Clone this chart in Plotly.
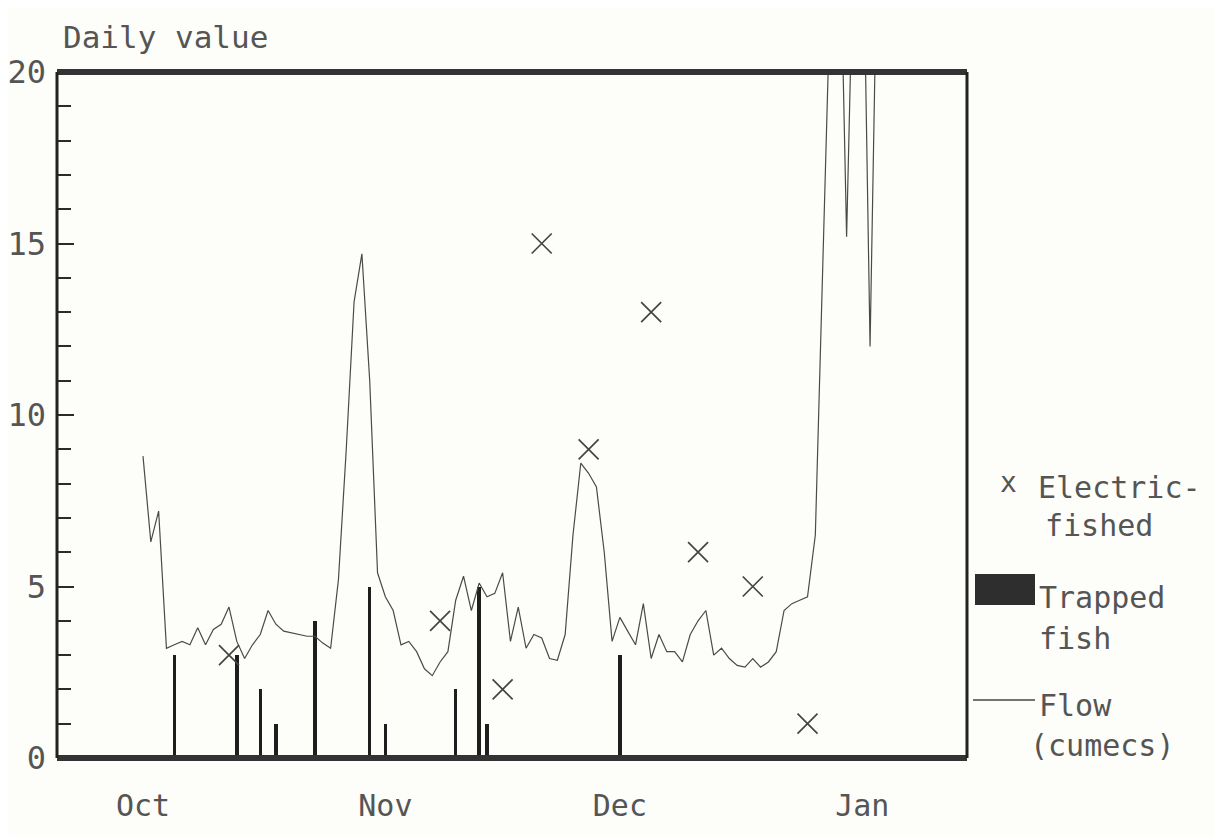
import plotly.graph_objects as go

# ---- data (day 0 = 1 October) ----
flow_days = list(range(0, 95))
flow_vals = [
    8.8, 6.3, 7.2, 3.2, 3.3, 3.4, 3.3, 3.8, 3.3, 3.75,
    3.9, 4.4, 3.4, 2.9, 3.3, 3.6, 4.3, 3.9, 3.7, 3.65,
    3.6, 3.55, 3.55, 3.35, 3.2, 5.2, 9.0, 13.3, 14.7, 11.0,
    5.4, 4.7, 4.3, 3.3, 3.4, 3.1, 2.6, 2.4, 2.8, 3.1,
    4.6, 5.3, 4.3, 5.1, 4.7, 4.8, 5.4, 3.4, 4.4, 3.2,
    3.6, 3.5, 2.9, 2.85, 3.6, 6.5, 8.6, 8.3, 7.9, 6.0,
    3.4, 4.1, 3.7, 3.3, 4.5, 2.9, 3.6, 3.1, 3.1, 2.8,
    3.6, 4.0, 4.3, 3.0, 3.2, 2.9, 2.7, 2.65, 2.9, 2.65,
    2.8, 3.1, 4.3, 4.5, 4.6, 4.7, 6.5, 14.8, 23.0, 26.0,
    15.2, 25.0, 26.0, 12.0, 25.0,
]

trap_days = [4, 12, 15, 17, 22, 29, 31, 40, 43, 44, 61]
trap_vals = [3, 3, 2, 1, 4, 5, 1, 2, 5, 1, 3]

elec_days = [11, 38, 46, 51, 57, 65, 71, 78, 85]
elec_vals = [3, 4, 2, 15, 9, 13, 6, 5, 1]

month_ticks = [0, 31, 61, 92]
month_labels = ["Oct", "Nov", "Dec", "Jan"]
y_ticks = [0, 5, 10, 15, 20]

INK = "#2b2b2b"
TXT = "#555555"
FONT = "DejaVu Sans Mono"
PAPER = "#fdfdf9"

# page offset (browser body margin) and figure geometry
OFF = 8
FIG_W, FIG_H = 1214, 829
L, T = 57 - OFF, 72 - OFF
R = FIG_W - (967 - OFF)
B = FIG_H - (758 - OFF)
W = FIG_W - L - R
H = FIG_H - T - B

fig = go.Figure()

fig.add_trace(go.Bar(
    x=trap_days, y=trap_vals, width=0.45,
    marker=dict(color="#1e1e1e", line=dict(width=0)),
    name="Trapped fish", showlegend=False,
))

fig.add_trace(go.Scatter(
    x=flow_days, y=flow_vals, mode="lines",
    line=dict(color="#4a4a4a", width=1.2),
    name="Flow (cumecs)", showlegend=False,
))

fig.add_trace(go.Scatter(
    x=elec_days, y=elec_vals, mode="markers",
    marker=dict(symbol="x-thin", size=20, line=dict(color="#444444", width=1.7)),
    name="Electric-fished", showlegend=False, cliponaxis=False,
))

fig.update_layout(
    width=FIG_W, height=FIG_H,
    paper_bgcolor=PAPER, plot_bgcolor=PAPER,
    margin=dict(l=L, r=R, t=T, b=B, autoexpand=False),
    font=dict(family=FONT, color=TXT),
    bargap=0,
    xaxis=dict(
        range=[-11, 105.4], showgrid=False, zeroline=False,
        showline=False, ticks="", automargin=False,
        tickmode="array", tickvals=month_ticks, ticktext=month_labels,
        tickfont=dict(size=30, family=FONT, color=TXT),
        ticklabelstandoff=27,
    ),
    yaxis=dict(
        range=[0, 20], showgrid=False, zeroline=False, automargin=False,
        showline=False, ticks="inside", ticklen=17, tickwidth=2,
        tickcolor=INK,
        tickmode="array", tickvals=y_ticks,
        tickfont=dict(size=32, family=FONT, color=TXT),
        ticklabelstandoff=10,
        minor=dict(dtick=1, ticks="inside", ticklen=14, tickwidth=2, tickcolor=INK),
    ),
)

# frame: heavy top and bottom borders, thinner sides
fig.add_shape(type="line", xref="paper", yref="paper", x0=0, x1=1, y0=1, y1=1,
              line=dict(color="#333333", width=6))
fig.add_shape(type="line", xref="paper", yref="paper", x0=0, x1=1, y0=0, y1=0,
              line=dict(color="#333333", width=6))
fig.add_shape(type="line", xref="paper", yref="paper", x0=0, x1=0, y0=0, y1=1,
              line=dict(color="#222222", width=3))
fig.add_shape(type="line", xref="paper", yref="paper", x0=1, x1=1, y0=0, y1=1,
              line=dict(color="#222222", width=3))

# y-axis title
fig.add_annotation(text="Daily value", xref="paper", yref="paper",
                   x=0.004, y=1.022, xanchor="left", yanchor="bottom",
                   showarrow=False, font=dict(size=31, family=FONT, color=TXT))

# legend drawn on the right (positions given in screen pixels)
def px(x):
    return (x - OFF - L) / W

def py(y):
    return (FIG_H - B - (y - OFF)) / H

def ann(text, x, y, size=30):
    fig.add_annotation(text=text, xref="paper", yref="paper", x=px(x), y=py(y),
                       xanchor="left", yanchor="middle", showarrow=False,
                       font=dict(size=size, family=FONT, color=TXT))

ann("x", 998, 482, size=28)
ann("Electric-", 1036, 487)
ann("fished", 1043, 525)
fig.add_shape(type="rect", xref="paper", yref="paper",
              x0=px(975), x1=px(1035), y0=py(605), y1=py(574),
              fillcolor="#2e2e2e", line=dict(width=0))
ann("Trapped", 1037, 597)
ann("fish", 1037, 638)
fig.add_shape(type="line", xref="paper", yref="paper",
              x0=px(973), x1=px(1035), y0=py(700), y1=py(700),
              line=dict(color="#444444", width=1.5))
ann("Flow", 1037, 705)
ann("(cumecs)", 1028, 745)

fig.write_html("out.html")
